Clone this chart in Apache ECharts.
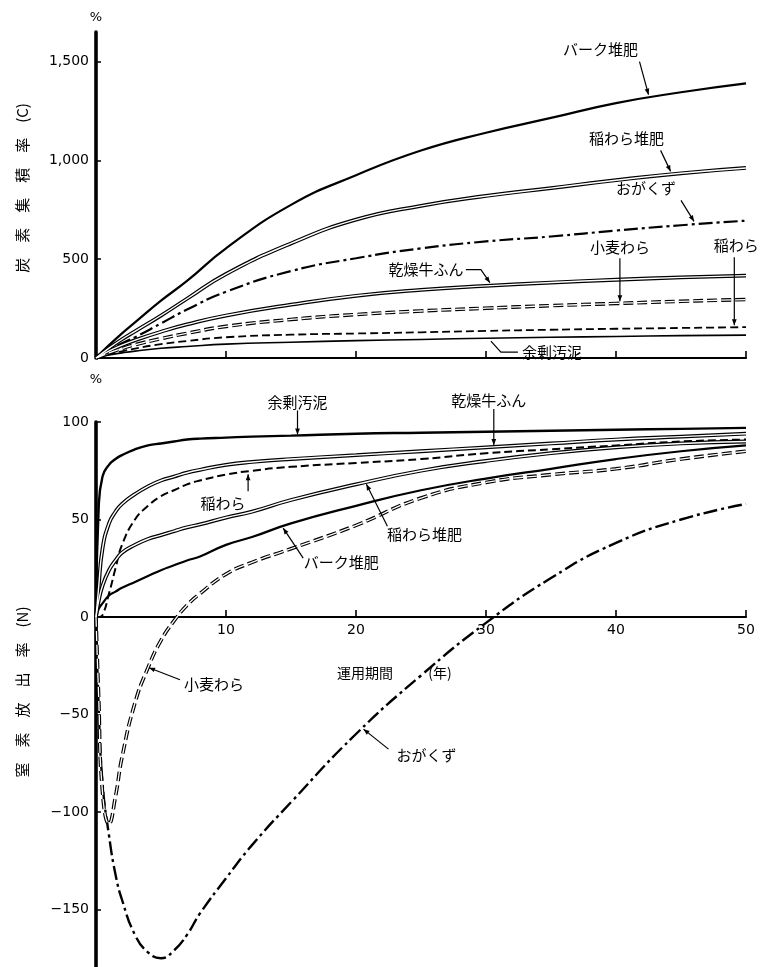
<!DOCTYPE html>
<html>
<head>
<meta charset="utf-8">
<script src="https://cdn.jsdelivr.net/npm/echarts@6/dist/echarts.min.js"></script>
<style>
html,body{margin:0;padding:0;background:#fff}
#main{width:765px;height:967px}
</style>
</head>
<body>
<div id="main"></div>
<script>
// 上段：炭素集積率 (%) — 運用年数ごとの値
const yearsC = [0, 1, 2, 3, 5, 7, 10, 15, 20, 25, 30, 35, 40, 45, 50];
const barkC    = [0, 65, 125, 180, 290, 390, 555, 775, 925, 1050, 1140, 1215, 1290, 1345, 1390];
const riceCompC= [0, 50, 95, 135, 215, 300, 425, 580, 700, 770, 820, 860, 900, 935, 962];
const sawdustC = [0, 40, 75, 105, 175, 245, 335, 440, 505, 555, 590, 615, 645, 672, 695];
const cowC     = [0, 35, 65, 90, 133, 170, 215, 270, 315, 345, 365, 382, 396, 408, 417];
const wheatC   = [0, 26, 48, 67, 98, 125, 160, 195, 220, 238, 252, 265, 276, 287, 296];
const riceC    = [0, 18, 34, 48, 70, 86, 105, 118, 124, 130, 137, 143, 148, 152, 156];
const sludgeC  = [0, 15, 26, 35, 49, 58, 70, 80, 88, 94, 100, 105, 109, 113, 116];

// 下段：窒素放出率 (%)
const yearsN = [0, 0.2, 0.5, 1, 1.5, 2, 3, 4, 5, 6, 7, 8, 10, 12, 15, 20, 25, 30, 35, 40, 45, 50];
const sludgeN  = [0, 55, 72, 78, 81, 83, 86, 88, 89, 90, 91, 91.5, 92, 92.5, 93, 94, 94.5, 95, 95.5, 96, 96.5, 97];
const cowN     = [0, 15, 35, 48, 54, 58, 63, 67, 70, 72, 74, 75.5, 78, 79.5, 81, 83, 85, 87, 89, 91, 92.5, 94];
const riceN    = [0, 0, 1, 12, 25, 37, 50, 57, 62, 65, 68, 70, 73, 75, 77, 79, 81, 84, 86, 88, 90, 91];
const riceCompN= [0, 8, 16, 24, 29, 33, 37, 40, 42, 44, 46, 47.5, 51, 54, 60, 68, 75, 80, 84, 87, 89, 90];
const barkN    = [0, 4, 7, 11, 13, 15, 18, 21, 24, 26.5, 29, 31, 37, 41, 48, 57, 65, 71, 76, 81, 85, 88];
const wheatN   = [0, -40, -90, -106, -92, -72, -44, -26, -12, -2, 6, 12, 22, 28, 35, 47, 61, 69, 73, 76, 81, 85];
const sawdustN = [0, -45, -85, -112, -132, -145, -163, -172, -175, -171, -163, -152, -134, -117, -95, -60, -30, -3, 20, 38, 50, 58];

// 目盛
const xTicks = [10, 20, 30, 40, 50];
const cTicks = [0, 500, 1000, 1500];
const nTicks = [-150, -100, -50, 0, 50, 100];

const JP = '"Noto Sans CJK JP", "Noto Sans", sans-serif';
const NUM = '"DejaVu Sans", "Noto Sans", sans-serif';

function pairs(xs, ys) { return xs.map((x, i) => [x, ys[i]]); }

const DASH = [8, 4];
const DASHDOT = [14, 4, 3, 4];

// 線種：solid / double(中抜き二重線) / doubleDash / dashed / dashdot
function lineSeries(name, grid, xs, ys, kind, width) {
  const data = pairs(xs, ys);
  const base = {
    type: 'line', name, xAxisIndex: grid, yAxisIndex: grid, data,
    showSymbol: false, smooth: 0.5, silent: true, animation: false
  };
  const out = [];
  if (kind === 'solid') {
    out.push(Object.assign({}, base, { lineStyle: { color: '#000', width: width || 2 }, z: 3 }));
  } else if (kind === 'double') {
    out.push(Object.assign({}, base, { lineStyle: { color: '#000', width: 3.8 }, z: 3 }));
    out.push(Object.assign({}, base, { name: name + '_inner', lineStyle: { color: '#fff', width: 1.4 }, z: 4 }));
  } else if (kind === 'doubleDash') {
    out.push(Object.assign({}, base, { lineStyle: { color: '#000', width: 3.6, type: [10, 4] }, z: 3 }));
    out.push(Object.assign({}, base, { name: name + '_inner', lineStyle: { color: '#fff', width: 1.3, type: [10, 4] }, z: 4 }));
  } else if (kind === 'dashed') {
    out.push(Object.assign({}, base, { lineStyle: { color: '#000', width: width || 2, type: DASH }, z: 3 }));
  } else if (kind === 'dashdot') {
    out.push(Object.assign({}, base, { lineStyle: { color: '#000', width: width || 2.2, type: DASHDOT }, z: 3 }));
  }
  return out;
}

const series = [].concat(
  lineSeries('余剰汚泥', 0, yearsC, sludgeC, 'solid', 1.6),
  lineSeries('稲わら', 0, yearsC, riceC, 'dashed', 1.8),
  lineSeries('小麦わら', 0, yearsC, wheatC, 'doubleDash'),
  lineSeries('乾燥牛ふん', 0, yearsC, cowC, 'double'),
  lineSeries('おがくず', 0, yearsC, sawdustC, 'dashdot'),
  lineSeries('稲わら堆肥', 0, yearsC, riceCompC, 'double'),
  lineSeries('バーク堆肥', 0, yearsC, barkC, 'solid', 2.2),

  lineSeries('おがくず', 1, yearsN, sawdustN, 'dashdot', 2.4),
  lineSeries('小麦わら', 1, yearsN, wheatN, 'doubleDash'),
  lineSeries('バーク堆肥', 1, yearsN, barkN, 'solid', 2.2),
  lineSeries('稲わら堆肥', 1, yearsN, riceCompN, 'double'),
  lineSeries('稲わら', 1, yearsN, riceN, 'dashed', 2),
  lineSeries('乾燥牛ふん', 1, yearsN, cowN, 'double'),
  lineSeries('余剰汚泥', 1, yearsN, sludgeN, 'solid', 2.4)
);

// 下段は縦軸が -200〜100、横軸は 0% の位置に置く
const GRID_N = { top: 422, height: 585 };
const N_MIN = -200, N_MAX = 100;
const zeroOffsetN = -GRID_N.height * (0 - N_MIN) / (N_MAX - N_MIN);

function xAxis(grid, showLabels, offset) {
  return {
    type: 'value', gridIndex: grid, min: 0, max: 50, interval: 10,
    position: 'bottom', offset: offset || 0,
    axisLine: { onZero: false, lineStyle: { color: '#000', width: 2.2 } },
    axisTick: { show: true, inside: true, length: 7, lineStyle: { color: '#000', width: 1.6 },
                customValues: xTicks },
    axisLabel: {
      show: showLabels, color: '#000', fontFamily: NUM, fontSize: 14, margin: 6,
      customValues: xTicks
    },
    splitLine: { show: false }
  };
}

function yAxis(grid, min, max, interval, ticks, nameGap, fmt) {
  return {
    type: 'value', gridIndex: grid, min, max, interval,
    name: '%', nameLocation: 'end', nameGap,
    nameTextStyle: { color: '#000', fontFamily: NUM, fontSize: 13, align: 'center' },
    axisLine: { show: true, onZero: false, lineStyle: { color: '#000', width: 3.6 } },
    axisTick: { show: true, inside: true, length: 5, lineStyle: { color: '#000', width: 1.5 },
                customValues: ticks },
    axisLabel: { color: '#000', fontFamily: NUM, fontSize: 14, margin: 7,
                 customValues: ticks, formatter: fmt },
    splitLine: { show: false }
  };
}

const option = {
  backgroundColor: '#fff',
  animation: false,
  grid: [
    { left: 96, top: 32, width: 650, height: 326, outerBoundsMode: 'none', containLabel: false },
    { left: 96, top: GRID_N.top, width: 650, height: GRID_N.height, outerBoundsMode: 'none', containLabel: false }
  ],
  xAxis: [xAxis(0, false, 0), xAxis(1, true, zeroOffsetN)],
  yAxis: [
    yAxis(0, 0, 1650, 500, cTicks, 8, v => v.toLocaleString('en-US')),
    yAxis(1, N_MIN, N_MAX, 50, nTicks, 36, v => (v < 0 ? '\u2212' + Math.abs(v) : String(v)))
  ],
  series
};

const chart = echarts.init(document.getElementById('main'), null, { renderer: 'canvas' });
chart.setOption(option);

// 曲線上の位置（線形補間）
function valueAt(xs, ys, x) {
  for (let i = 1; i < xs.length; i++) {
    if (x <= xs[i]) {
      const t = (x - xs[i - 1]) / (xs[i] - xs[i - 1]);
      return ys[i - 1] + t * (ys[i] - ys[i - 1]);
    }
  }
  return ys[ys.length - 1];
}

// 引出線付きの系列名ラベル：tip は曲線上の年、path・text はそこからの画素オフセット
const notes = [
  { grid: 0, xs: yearsC, ys: barkC,     at: 42.5, label: 'バーク堆肥', text: [-48, -48], path: [[-9, -36], [0, -3]] },
  { grid: 0, xs: yearsC, ys: riceCompC, at: 44.2, label: '稲わら堆肥', text: [-44, -36], path: [[-10, -24], [0, -3]] },
  { grid: 0, xs: yearsC, ys: sawdustC,  at: 46.0, label: 'おがくず',   text: [-48, -36], path: [[-13, -24], [0, -3]] },
  { grid: 0, xs: yearsC, ys: cowC,      at: 30.3, label: '乾燥牛ふん', text: [-64, -16], path: [[-24, -16], [-9, -16], [0, -3]] },
  { grid: 0, xs: yearsC, ys: wheatC,    at: 40.3, label: '小麦わら',   text: [0, -56], path: [[0, -45], [0, -2]] },
  { grid: 0, xs: yearsC, ys: riceC,     at: 49.1, label: '稲わら',     text: [2, -82], path: [[0, -70], [0, -2]] },
  { grid: 0, xs: yearsC, ys: sludgeC,   at: 30.3, label: '余剰汚泥',   text: [62, 14], path: [[28, 14], [11, 14], [1, 3]], noHead: true },

  { grid: 1, xs: yearsN, ys: sludgeN,   at: 15.5, label: '余剰汚泥',   text: [0, -33], path: [[0, -25], [0, -1]] },
  { grid: 1, xs: yearsN, ys: cowN,      at: 30.6, label: '乾燥牛ふん', text: [-5, -47], path: [[0, -38], [0, -2]] },
  { grid: 1, xs: yearsN, ys: riceN,     at: 11.7, label: '稲わら',     text: [-25, 32], path: [[0, 20], [0, 3]] },
  { grid: 1, xs: yearsN, ys: riceCompN, at: 20.8, label: '稲わら堆肥', text: [58, 52], path: [[21, 44], [0, 2]] },
  { grid: 1, xs: yearsN, ys: barkN,     at: 14.4, label: 'バーク堆肥', text: [58, 36], path: [[20, 32], [0, 2]] },
  { grid: 1, xs: yearsN, ys: wheatN,    at: 4.0,  label: '小麦わら',   text: [66, 17], path: [[32, 12], [1, 0]] },
  { grid: 1, xs: yearsN, ys: sawdustN,  at: 20.5, label: 'おがくず',   text: [64, 27], path: [[26, 21], [1, 1]] }
];

const graphics = [];

function arrowHead(p0, p1) {
  const dx = p1[0] - p0[0], dy = p1[1] - p0[1];
  const L = Math.hypot(dx, dy) || 1;
  const ux = dx / L, uy = dy / L;
  const len = 6, hw = 2.4;
  const bx = p1[0] - ux * len, by = p1[1] - uy * len;
  return {
    type: 'polygon', silent: true, z: 20,
    shape: { points: [p1, [bx - uy * hw, by + ux * hw], [bx + uy * hw, by - ux * hw]] },
    style: { fill: '#000' }
  };
}

notes.forEach(n => {
  const tip = chart.convertToPixel({ gridIndex: n.grid }, [n.at, valueAt(n.xs, n.ys, n.at)]);
  const pts = n.path.map(o => [tip[0] + o[0], tip[1] + o[1]]);
  graphics.push({
    type: 'polyline', silent: true, z: 20,
    shape: { points: pts },
    style: { stroke: '#000', lineWidth: 1.2, fill: null }
  });
  if (!n.noHead) graphics.push(arrowHead(pts[pts.length - 2], pts[pts.length - 1]));
  graphics.push({
    type: 'text', silent: true, z: 21,
    x: tip[0] + n.text[0], y: tip[1] + n.text[1],
    style: { text: n.label, fill: '#000', font: '15px ' + JP, align: 'center', verticalAlign: 'middle' }
  });
});

// 縦軸の表題と横軸の表題
const pZeroN = chart.convertToPixel({ gridIndex: 1 }, [0, 0]);
graphics.push(
  { type: 'text', silent: true, x: 22, y: 188, rotation: Math.PI / 2,
    style: { text: '炭\u3000素\u3000集\u3000積\u3000率\u3000(C)', fill: '#000', font: '15px ' + JP, align: 'center', verticalAlign: 'middle' } },
  { type: 'text', silent: true, x: 22, y: 692, rotation: Math.PI / 2,
    style: { text: '窒\u3000素\u3000放\u3000出\u3000率\u3000(N)', fill: '#000', font: '15px ' + JP, align: 'center', verticalAlign: 'middle' } },
  { type: 'text', silent: true, x: 365, y: pZeroN[1] + 56,
    style: { text: '運用期間', fill: '#000', font: '14px ' + JP, align: 'center', verticalAlign: 'middle' } },
  { type: 'text', silent: true, x: 440, y: pZeroN[1] + 56,
    style: { text: '(年)', fill: '#000', font: '14px ' + JP, align: 'center', verticalAlign: 'middle' } }
);

chart.setOption({ graphic: graphics });
</script>
</body>
</html>
